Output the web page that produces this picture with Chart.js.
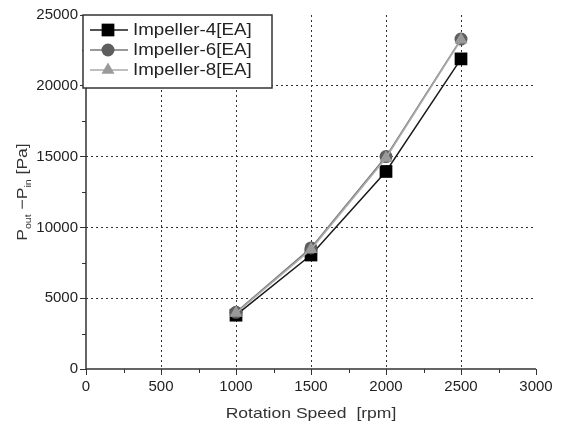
<!DOCTYPE html>
<html>
<head>
<meta charset="utf-8">
<script src="https://cdn.jsdelivr.net/npm/chart.js@4.4.1/dist/chart.umd.min.js"></script>
<style>
    html, body { margin: 0; padding: 0; background: #fff; }
    #wrap { width: 565px; height: 427px; }
</style>
</head>
<body>
<div id="wrap"><canvas id="myChart" width="565" height="427"></canvas></div>
<script>
// rotation speed [rpm]
const speeds = [1000, 1500, 2000, 2500];

// pressure rise P_out - P_in [Pa]
const impeller4 = [3800, 8050, 13950, 21900];
const impeller6 = [4000, 8550, 15000, 23300];
const impeller8 = [3950, 8450, 14900, 23250];

const seriesNames = ['Impeller-4[EA]', 'Impeller-6[EA]', 'Impeller-8[EA]'];

const xMax = 3000;
const yMax = 25000;

const FONT = '"Liberation Sans", Arial, sans-serif';
const STRETCH = 1.17;

const makeSet = (label, values, style) => ({
    label,
    data: speeds.map((x, i) => ({ x, y: values[i] })),
    borderColor: style.line,
    borderWidth: 1.5,
    backgroundColor: style.fill,
    pointBackgroundColor: style.fill,
    pointBorderColor: style.fill,
    pointBorderWidth: 0,
    pointStyle: style.shape,
    pointRadius: style.radius,
    pointHoverRadius: style.radius,
    order: style.order,
    clip: false,
});

// stretched text helper, the reference font is wide
const wideText = (ctx, text, x, y, align) => {
    ctx.save();
    ctx.translate(x, y);
    ctx.scale(STRETCH, 1);
    ctx.textAlign = align || 'left';
    ctx.fillText(text, 0, 0);
    ctx.restore();
};

const hideEnds = max => c => (c.tick && (c.tick.value === 0 || c.tick.value === max)) ? 'rgba(0,0,0,0)' : '#333';

const extras = {
    id: 'extras',
    afterDraw(chart) {
        const { ctx, chartArea, scales } = chart;
        const xs = scales.x, ys = scales.y;

        // axis lines + minor ticks
        ctx.save();
        ctx.setLineDash([]);
        ctx.strokeStyle = '#333';
        ctx.lineWidth = 1.5;
        ctx.beginPath();
        ctx.moveTo(chartArea.left, chartArea.top);
        ctx.lineTo(chartArea.left, chartArea.bottom);
        ctx.lineTo(chartArea.right, chartArea.bottom);
        ctx.stroke();
        ctx.lineWidth = 1;
        for (let v = 250; v < xMax; v += 500) {
            const px = Math.round(xs.getPixelForValue(v)) + 0.5;
            ctx.beginPath();
            ctx.moveTo(px, chartArea.bottom);
            ctx.lineTo(px, chartArea.bottom + 4);
            ctx.stroke();
        }
        for (let v = 2500; v < yMax; v += 5000) {
            const py = Math.round(ys.getPixelForValue(v)) + 0.5;
            ctx.beginPath();
            ctx.moveTo(chartArea.left, py);
            ctx.lineTo(chartArea.left - 4, py);
            ctx.stroke();
        }
        ctx.restore();

        // x title
        ctx.save();
        ctx.fillStyle = '#333';
        ctx.font = '15px ' + FONT;
        ctx.textBaseline = 'alphabetic';
        wideText(ctx, 'Rotation Speed  [rpm]', (chartArea.left + chartArea.right) / 2, 418, 'center');
        ctx.restore();

        // y title with subscripts
        ctx.save();
        ctx.fillStyle = '#333';
        ctx.translate(27, (chartArea.top + chartArea.bottom) / 2);
        ctx.rotate(-Math.PI / 2);
        ctx.scale(STRETCH, 1);
        const parts = [
            { t: 'P', size: 15, dy: 0 },
            { t: 'out', size: 9, dy: 4 },
            { t: ' \u2212P', size: 15, dy: 0 },
            { t: 'in', size: 9, dy: 4 },
            { t: ' [Pa]', size: 15, dy: 0 },
        ];
        let total = 0;
        parts.forEach(p => {
            ctx.font = p.size + 'px ' + FONT;
            p.w = ctx.measureText(p.t).width;
            total += p.w;
        });
        let cx = -total / 2;
        ctx.textAlign = 'left';
        parts.forEach(p => {
            ctx.font = p.size + 'px ' + FONT;
            ctx.fillText(p.t, cx, p.dy);
            cx += p.w;
        });
        ctx.restore();

        // legend box
        const lx = chartArea.left - 3;
        const ly = chartArea.top;
        const lw = 189;
        const lh = 73;
        ctx.save();
        ctx.fillStyle = '#fff';
        ctx.fillRect(lx, ly, lw, lh);
        ctx.strokeStyle = '#333';
        ctx.lineWidth = 1.5;
        ctx.strokeRect(lx, ly, lw, lh);
        chart.data.datasets.forEach((ds, i) => {
            const rowY = ly + 15 + i * 20;
            ctx.strokeStyle = ds.borderColor;
            ctx.lineWidth = 1.5;
            ctx.beginPath();
            ctx.moveTo(lx + 7, rowY);
            ctx.lineTo(lx + 45, rowY);
            ctx.stroke();
            ctx.fillStyle = ds.pointBackgroundColor;
            ctx.strokeStyle = ds.pointBackgroundColor;
            Chart.helpers.drawPoint(ctx, {
                pointStyle: ds.pointStyle,
                radius: ds.pointRadius,
                rotation: 0,
                borderWidth: 0,
            }, lx + 25, rowY);
            ctx.fillStyle = '#222';
            ctx.font = '16px ' + FONT;
            ctx.textBaseline = 'middle';
            wideText(ctx, ds.label, lx + 50, rowY + 1, 'left');
        });
        ctx.restore();
    }
};

new Chart(document.getElementById('myChart').getContext('2d'), {
    type: 'line',
    data: {
        datasets: [
            makeSet(seriesNames[0], impeller4, { line: '#1a1a1a', fill: '#000', shape: 'rect', radius: 9, order: 3 }),
            makeSet(seriesNames[1], impeller6, { line: '#777', fill: '#5e5e5e', shape: 'circle', radius: 6.5, order: 2 }),
            makeSet(seriesNames[2], impeller8, { line: '#aaa', fill: '#9a9a9a', shape: 'triangle', radius: 7.5, order: 1 }),
        ],
    },
    options: {
        responsive: false,
        animation: false,
        events: [],
        layout: { padding: { top: 15, right: 29, left: 0, bottom: 0 } },
        plugins: {
            legend: { display: false },
            tooltip: { enabled: false },
        },
        scales: {
            x: {
                type: 'linear',
                min: 0,
                max: xMax,
                afterFit: scale => { scale.height = 58; },
                border: { display: false, color: '#333', width: 1.5, dash: [2, 3] },
                grid: {
                    color: hideEnds(xMax),
                    lineWidth: 1,
                    tickLength: 6,
                    tickColor: '#333',
                    tickBorderDash: [],
                },
                ticks: {
                    stepSize: 500,
                    padding: 3,
                    color: '#222',
                    font: { family: FONT, size: 15 },
                    maxRotation: 0,
                    callback: v => String(v),
                },
            },
            y: {
                type: 'linear',
                min: 0,
                max: yMax,
                afterFit: scale => { scale.width = 86; },
                border: { display: false, color: '#333', width: 1.5, dash: [2, 3] },
                grid: {
                    color: hideEnds(yMax),
                    lineWidth: 1,
                    tickLength: 6,
                    tickColor: '#333',
                    tickBorderDash: [],
                },
                ticks: {
                    stepSize: 5000,
                    padding: 2,
                    color: '#222',
                    font: { family: FONT, size: 15 },
                    callback: v => String(v),
                },
            },
        },
    },
    plugins: [extras],
});
</script>
</body>
</html>
